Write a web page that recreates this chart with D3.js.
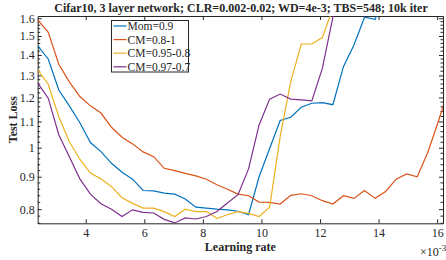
<!DOCTYPE html>
<html>
<head>
<meta charset="utf-8">
<script src="https://cdn.jsdelivr.net/npm/d3@7"></script>
<style>
  body { margin: 0; background: #fff; }
  svg text { font-family: "Liberation Serif", "Times New Roman", serif; fill: #262626; }
</style>
</head>
<body>
<div id="chart"></div>
<script>
// learning rate (x 1e-3)
var lr = [2.36, 2.72, 3.08, 3.44, 3.80, 4.16, 4.52, 4.88, 5.24, 5.60, 5.96, 6.32, 6.68, 7.04, 7.40, 7.76,
          8.12, 8.48, 8.84, 9.20, 9.56, 9.92, 10.28, 10.64, 11.00, 11.36, 11.72, 12.08, 12.44, 12.80,
          13.16, 13.52, 13.88, 14.24, 14.60, 14.96, 15.32, 15.68, 16.04, 16.40];

var mom09 = [1.447, 1.38, 1.233, 1.164, 1.095, 1.019, 0.986, 0.945, 0.915, 0.892, 0.856, 0.855, 0.848, 0.845,
             0.830, 0.806, 0.803, 0.800, 0.798, 0.794, 0.784, 0.900, 0.997, 1.104, 1.117, 1.158, 1.175, 1.178,
             1.169, 1.342, 1.452, 1.606, 1.594, 1.75];
var cm081 = [1.59, 1.52, 1.354, 1.27, 1.204, 1.164, 1.134, 1.077, 1.039, 1.014, 0.985, 0.968, 0.928, 0.920,
             0.911, 0.903, 0.892, 0.874, 0.860, 0.845, 0.840, 0.821, 0.820, 0.815, 0.841, 0.846, 0.840, 0.825,
             0.815, 0.840, 0.832, 0.856, 0.832, 0.853, 0.892, 0.909, 0.900, 0.983, 1.10, 1.24];
var cm095 = [1.326, 1.259, 1.119, 1.022, 0.959, 0.912, 0.893, 0.868, 0.834, 0.817, 0.803, 0.803, 0.793, 0.779,
             0.800, 0.793, 0.793, 0.774, 0.784, 0.793, 0.788, 0.779, 0.806, 1.041, 1.271, 1.457, 1.457, 1.492,
             1.66, 1.9];
var cm097 = [1.264, 1.197, 1.048, 0.968, 0.893, 0.845, 0.816, 0.800, 0.779, 0.798, 0.791, 0.789, 0.771, 0.761,
             0.775, 0.772, 0.779, 0.793, 0.818, 0.843, 0.926, 1.086, 1.193, 1.215, 1.193, 1.19, 1.185, 1.334,
             1.607, 1.9];

var seriesNames = ["Mom=0.9", "CM=0.8-1", "CM=0.95-0.8", "CM=0.97-0.7"];
var seriesColors = ["#0072BD", "#D95319", "#EDB120", "#7E2F8E"];
var seriesValues = [mom09, cm081, cm095, cm097];

var xTicks = [4, 6, 8, 10, 12, 14, 16];
var yTicks = [0.8, 0.9, 1, 1.1, 1.2, 1.3, 1.4, 1.5, 1.6];

(function() {
var W = 446, H = 260;
var pl = 37.7, pr = 443, pt = 16, pb = 223.3;

var svg = d3.select("#chart").append("svg")
    .attr("width", W).attr("height", H);

var x = d3.scaleLinear().domain([2.36, 16.2]).range([pl, pr]);
var y = d3.scaleLog().domain([0.76, 1.613]).range([pb, pt]);

// minor y ticks every 0.02
var yMinor = d3.range(0.76, 1.6101, 0.02).filter(function(v) {
    return Math.abs(v * 10 - Math.round(v * 10)) > 0.01;
});

svg.append("defs").append("clipPath").attr("id", "clip")
    .append("rect").attr("x", pl).attr("y", pt)
    .attr("width", pr - pl).attr("height", pb - pt);

var axisColor = "#262626";

// y axis left
var gy = svg.append("g").attr("transform", "translate(" + pl + ",0)")
    .call(d3.axisLeft(y).tickValues(yTicks).tickFormat(function(d) { return d3.format("")(d); })
        .tickSizeInner(-4).tickSizeOuter(0).tickPadding(3));
gy.append("g").selectAll("line").data(yMinor).enter().append("line")
    .attr("x1", 0).attr("x2", 2.5).attr("y1", function(d) { return y(d); }).attr("y2", function(d) { return y(d); });

// y axis right (no labels)
var gy2 = svg.append("g").attr("transform", "translate(" + pr + ",0)")
    .call(d3.axisRight(y).tickValues(yTicks).tickFormat("").tickSizeInner(-4).tickSizeOuter(0));
gy2.append("g").selectAll("line").data(yMinor).enter().append("line")
    .attr("x1", 0).attr("x2", -2.5).attr("y1", function(d) { return y(d); }).attr("y2", function(d) { return y(d); });

// x axis bottom
var gx = svg.append("g").attr("transform", "translate(0," + pb + ")")
    .call(d3.axisBottom(x).tickValues(xTicks).tickSizeInner(-4).tickSizeOuter(0).tickPadding(5));

// x axis top
var gx2 = svg.append("g").attr("transform", "translate(0," + pt + ")")
    .call(d3.axisTop(x).tickValues(xTicks).tickFormat("").tickSizeInner(-4).tickSizeOuter(0));

svg.selectAll(".domain").attr("stroke", axisColor).attr("stroke-width", 1);
svg.selectAll("g line").attr("stroke", axisColor);
svg.selectAll(".tick text").attr("font-size", "12px").attr("fill", axisColor);

// lines
var line = d3.line()
    .x(function(d, i) { return x(lr[i]); })
    .y(function(d) { return y(d); });

var plot = svg.append("g").attr("clip-path", "url(#clip)");
seriesValues.forEach(function(vals, s) {
    plot.append("path")
        .datum(vals)
        .attr("fill", "none")
        .attr("stroke", seriesColors[s])
        .attr("stroke-width", 1.2)
        .attr("d", line);
});

// title
svg.append("text")
    .attr("x", 241).attr("y", 12)
    .attr("text-anchor", "middle")
    .attr("font-size", "12px").attr("font-weight", "bold")
    .text("Cifar10, 3 layer network; CLR=0.002-0.02; WD=4e-3; TBS=548; 10k iter");

// axis labels
svg.append("text")
    .attr("x", (pl + pr) / 2).attr("y", 251)
    .attr("text-anchor", "middle")
    .attr("font-size", "12px").attr("font-weight", "bold")
    .text("Learning rate");

svg.append("text")
    .attr("transform", "translate(17," + ((pt + pb) / 2) + ")rotate(-90)")
    .attr("text-anchor", "middle")
    .attr("font-size", "12px").attr("font-weight", "bold")
    .text("Test Loss");

var mult = svg.append("text")
    .attr("x", 420).attr("y", 256)
    .attr("font-size", "12px");
mult.append("tspan").text("\u00d710");
mult.append("tspan").attr("dy", -5).attr("font-size", "9px").text("-3");

// legend
var lg = svg.append("g");
lg.append("rect")
    .attr("x", 111.5).attr("y", 20.5).attr("width", 77).attr("height", 51.5)
    .attr("fill", "#fff").attr("stroke", axisColor).attr("stroke-width", 1);
seriesNames.forEach(function(name, i) {
    var ly = 26 + i * 13.6;
    lg.append("line")
        .attr("x1", 113.5).attr("x2", 126.5).attr("y1", ly).attr("y2", ly)
        .attr("stroke", seriesColors[i]).attr("stroke-width", 1.2);
    lg.append("text")
        .attr("x", 127.5).attr("y", ly + 4)
        .attr("font-size", "11.5px")
        .text(name);
});
})();
</script>
</body>
</html>
